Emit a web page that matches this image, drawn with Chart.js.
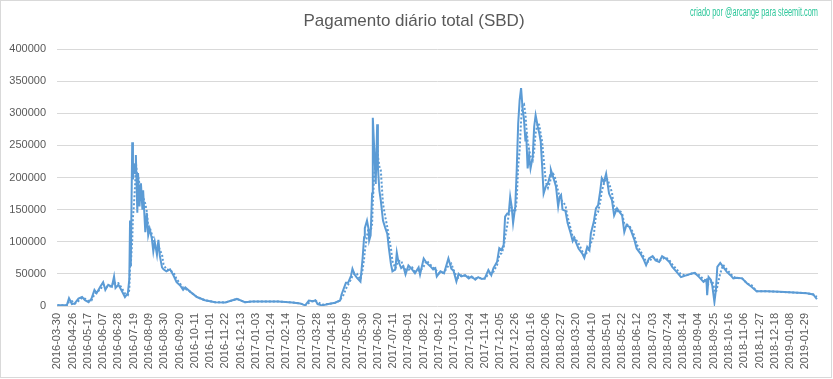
<!DOCTYPE html>
<html>
<head>
<meta charset="utf-8">
<script src="https://cdn.jsdelivr.net/npm/chart.js"></script>
<style>
  body { margin: 0; background: #fff; }
  #wrap { position: relative; width: 833px; height: 379px; }
  #frame { position: absolute; left: 0; top: 0; width: 832px; height: 378px; box-sizing: border-box; border: 1px solid #d9d9d9; pointer-events: none; }
</style>
</head>
<body>
<div id="wrap">
  <canvas id="myChart" width="833" height="379"></canvas>
  <div id="frame"></div>
</div>
<script>
// Daily payout (SBD). Day = row number in the source table.
const chartTitle = "Pagamento diário total (SBD)";
const creditText = "criado por @arcange para steemit.com";

const tickLabels = [
  "2016-03-30", "2016-04-26", "2016-05-17", "2016-06-07", "2016-06-28", "2016-07-19", "2016-08-09",
  "2016-08-30", "2016-09-20", "2016-10-11", "2016-11-01", "2016-11-22", "2016-12-13", "2017-01-03",
  "2017-01-24", "2017-02-14", "2017-03-07", "2017-03-28", "2017-04-18", "2017-05-09", "2017-05-30",
  "2017-06-20", "2017-07-11", "2017-08-01", "2017-08-22", "2017-09-12", "2017-10-03", "2017-10-24",
  "2017-11-14", "2017-12-05", "2017-12-26", "2018-01-16", "2018-02-06", "2018-02-27", "2018-03-20",
  "2018-04-10", "2018-05-01", "2018-05-22", "2018-06-12", "2018-07-03", "2018-07-24", "2018-08-14",
  "2018-09-04", "2018-09-25", "2018-10-16", "2018-11-06", "2018-11-27", "2018-12-18", "2019-01-08",
  "2019-01-29"
];

const dayIndex = [
  0, 13, 16, 20, 24, 29, 34, 38, 43, 47, 51, 54, 59, 63, 66, 70, 75, 78, 80, 84, 88, 93, 97, 99,
  100, 101, 103, 104, 105, 107, 108, 110, 111, 113, 115, 117, 118, 121, 123, 125, 127, 130, 132, 134,
  137, 139, 141, 144, 146, 150, 155, 160, 164, 169, 173, 176, 183, 192, 203, 217, 231, 247, 258, 268,
  286, 304, 323, 334, 341, 346, 352, 355, 358, 364, 373, 382, 389, 391, 394, 397, 400, 404, 406, 409,
  412, 417, 420, 422, 423, 426, 428, 429, 431, 433, 434, 436, 438, 440, 441, 443, 445, 448, 451, 454,
  456, 459, 461, 465, 467, 469, 473, 476, 479, 483, 488, 492, 497, 499, 504, 508, 513, 517, 520, 522,
  527, 532, 538, 542, 545, 549, 552, 556, 561, 566, 570, 575, 579, 584, 588, 593, 597, 600, 605, 608,
  611, 614, 616, 619, 621, 623, 625, 627, 630, 632, 634, 636, 638, 640, 642, 644, 645, 647, 649, 651,
  654, 656, 658, 661, 663, 665, 667, 669, 672, 675, 678, 679, 682, 684, 686, 689, 691, 693, 695, 699,
  702, 706, 709, 711, 717, 722, 725, 729, 732, 734, 738, 741, 744, 747, 749, 752, 755, 757, 759, 763,
  766, 770, 773, 777, 780, 783, 787, 790, 794, 797, 802, 806, 810, 814, 819, 823, 828, 832, 837, 842,
  846, 852, 858, 866, 873, 877, 883, 889, 893, 894, 896, 899, 901, 904, 906, 908, 912, 916, 921, 926,
  930, 935, 942, 949, 955, 962, 976, 994, 1013, 1031, 1040, 1045
];

const payout = [
  1000, 1000, 12000, 3000, 4000, 11500, 14000, 9000, 6000, 11500, 25000, 20000, 30000, 37000, 25000, 33000, 30000, 46000, 28000, 33000, 25000, 14000, 20000, 42000,
  133000, 62000, 255000, 197000, 222000, 207000, 235000, 145000, 207000, 155000, 191000, 150000, 180000, 115000, 145000, 110000, 120000, 105000, 85000, 100000,
  80000, 103000, 78000, 60000, 57000, 54000, 57000, 47000, 37000, 32000, 25000, 29000, 22000, 14000, 9000, 6000, 5500, 11000, 6000, 7000,
  7000, 7000, 5500, 4000, 1000, 8500, 7500, 9000, 3000, 1000, 3000, 5000, 8500, 18000, 27000, 36000, 36000, 47000, 58000, 49000,
  44000, 38000, 75000, 107000, 121000, 133000, 121000, 102000, 110000, 175000, 293000, 243000, 190000, 283000, 217000, 180000, 164000, 133000, 122000, 112000,
  91000, 65000, 54000, 57000, 83000, 70000, 59000, 62000, 49000, 63000, 57000, 51000, 60000, 49000, 74000, 67000, 62000, 57000, 59000, 46000,
  54000, 51000, 74000, 58000, 55000, 38000, 50000, 46000, 48000, 43000, 46000, 41000, 45000, 42000, 43000, 56000, 48000, 59000, 69000, 90000,
  87000, 95000, 139000, 144000, 144000, 170000, 155000, 129000, 155000, 212000, 284000, 320000, 339000, 308000, 290000, 256000, 269000, 214000, 235000, 214000,
  232000, 279000, 297000, 279000, 269000, 256000, 217000, 175000, 186000, 191000, 204000, 212000, 201000, 194000, 186000, 155000, 170000, 173000, 150000, 148000,
  129000, 114000, 101000, 106000, 89500, 82000, 75000, 92000, 87000, 113000, 131000, 152000, 157000, 180000, 199000, 193000, 206000, 191000, 175000, 165000,
  141000, 152000, 147000, 141000, 115000, 126000, 123000, 115000, 102500, 89500, 82000, 74000, 63500, 74000, 77500, 71000, 68600, 77500, 74000, 68600,
  61000, 53000, 45000, 48000, 50500, 51500, 45000, 37500, 41000, 16700, 45000, 41000, 32000, 6000, 24500, 61000, 67000, 61000, 53000, 48000,
  43000, 44000, 43000, 35000, 30000, 23000, 23000, 22000, 21000, 20000, 18000, 10500
];

// 7-day trailing moving average (the dotted trendline)
const trendPeriod = 7;

const lineColor = "#5b9bd5";
const textColor = "#595959";
const fontFamily = "'Liberation Sans', Arial, sans-serif";

const points = dayIndex.map((d, k) => ({ x: d, y: payout[k] }));
const trend = dayIndex.map((d, k) => {
  let sum = 0, n = 0;
  for (let j = k; j >= 0 && dayIndex[j] > d - trendPeriod; j--) {
    sum += payout[j];
    n++;
  }
  return { x: d, y: sum / n };
});

const headerText = {
  id: "headerText",
  afterDraw(chart) {
    const ctx = chart.ctx;
    ctx.save();
    ctx.textBaseline = "middle";
    ctx.textAlign = "center";
    ctx.fillStyle = textColor;
    ctx.font = "17px " + fontFamily;
    ctx.fillText(chartTitle, 414, 21, 228);
    ctx.textAlign = "right";
    ctx.fillStyle = "#2ec79b";
    ctx.font = "12px 'Liberation Sans Narrow', " + fontFamily;
    ctx.fillText(creditText, 818, 13, 128);
    ctx.restore();
  },
};

const myChart = document.getElementById("myChart");

new Chart(myChart, {
  type: "line",
  data: {
    datasets: [
      {
        label: "Pagamento diário",
        data: points,
        borderColor: lineColor,
        borderWidth: 2,
        pointRadius: 0,
        tension: 0,
      },
      {
        label: "Média móvel",
        data: trend,
        borderColor: lineColor,
        borderWidth: 2,
        borderDash: [2, 2],
        pointRadius: 0,
        tension: 0,
      },
    ],
  },
  options: {
    responsive: false,
    animation: false,
    devicePixelRatio: 1,
    layout: { padding: { top: 49, right: 15, left: 0, bottom: 0 } },
    plugins: {
      legend: { display: false },
      tooltip: { enabled: false },
    },
    scales: {
      x: {
        type: "linear",
        min: -0.5,
        max: 1046.5,
        afterBuildTicks: (scale) => {
          scale.ticks = tickLabels.map((t, k) => ({ value: k * 21 }));
        },
        afterFit: (scale) => {
          scale.height = 73;
        },
        grid: { display: false, drawTicks: false },
        border: { display: false },
        ticks: {
          autoSkip: false,
          minRotation: 90,
          maxRotation: 90,
          padding: 7,
          color: textColor,
          font: { family: fontFamily, size: 11 },
          callback: (value, index) => tickLabels[index],
        },
      },
      y: {
        min: 0,
        max: 400000,
        afterFit: (scale) => {
          scale.width = 57;
        },
        grid: { color: "#d9d9d9", drawTicks: false },
        border: { display: false },
        ticks: {
          stepSize: 50000,
          padding: 11,
          color: textColor,
          font: { family: fontFamily, size: 11 },
          callback: (value) => String(value),
        },
      },
    },
  },
  plugins: [headerText],
});
</script>
</body>
</html>
